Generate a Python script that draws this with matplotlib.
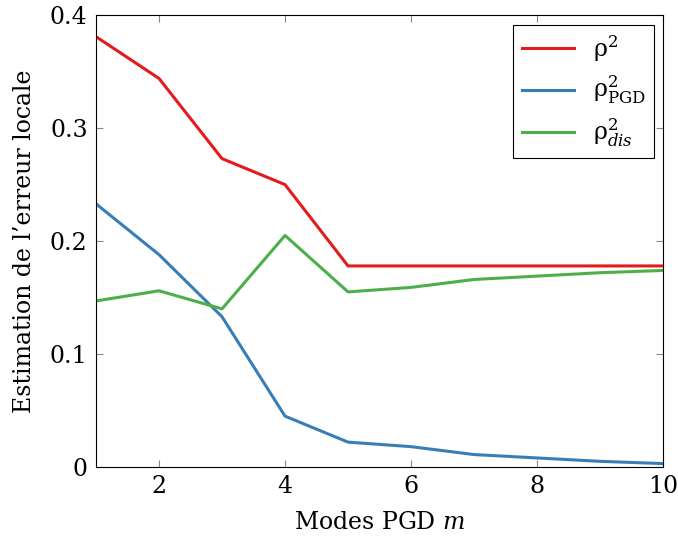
import matplotlib
matplotlib.use("Agg")
import matplotlib.pyplot as plt

modes = [1, 2, 3, 4, 5, 6, 7, 8, 9, 10]
rho2 = [0.381, 0.344, 0.273, 0.250, 0.178, 0.178, 0.178, 0.178, 0.178, 0.178]
rho2_pgd = [0.233, 0.188, 0.133, 0.045, 0.022, 0.018, 0.011, 0.008, 0.005, 0.003]
rho2_dis = [0.147, 0.156, 0.140, 0.205, 0.155, 0.159, 0.166, 0.169, 0.172, 0.174]
labels = ['ρ$^2$', 'ρ$^2_{\\mathrm{PGD}}$', 'ρ$^2_{dis}$']
xticks = [2, 4, 6, 8, 10]
yticks = [0, 0.1, 0.2, 0.3, 0.4]

plt.rcParams['font.family'] = ['DejaVu Serif']
plt.rcParams['mathtext.fontset'] = 'dejavuserif'

fig = plt.figure(figsize=(6.78, 5.43), dpi=100)
ax = fig.add_axes([0.1416, 0.140, 0.978 - 0.1416, 0.972 - 0.140])

ax.plot(modes, rho2, color='#e41a1c', lw=2.2, label=labels[0])
ax.plot(modes, rho2_pgd, color='#377eb8', lw=2.2, label=labels[1])
ax.plot(modes, rho2_dis, color='#4daf4a', lw=2.2, label=labels[2])

ax.set_xlim(1, 10)
ax.set_ylim(0, 0.4)
ax.set_xticks(xticks)
ax.set_yticks(yticks)
ax.set_yticklabels(['0', '0.1', '0.2', '0.3', '0.4'])
ax.tick_params(direction='in', top=True, right=True, length=5, width=0.8,
               color='#888888', labelsize=17, pad=6)
for s in ax.spines.values():
    s.set_linewidth(0.8)
    s.set_color('black')

ax.set_xlabel('Modes PGD $m$', fontsize=17, labelpad=9)
ax.set_ylabel("Estimation de l’erreur locale", fontsize=17, labelpad=10)

leg = ax.legend(loc='upper right', fontsize=17, fancybox=False, framealpha=1,
                edgecolor='black', borderaxespad=0.4, handlelength=2.2,
                labelspacing=0.45, borderpad=0.35, handletextpad=0.8)
leg.get_frame().set_linewidth(0.8)

fig.savefig('out.png', dpi=100)
